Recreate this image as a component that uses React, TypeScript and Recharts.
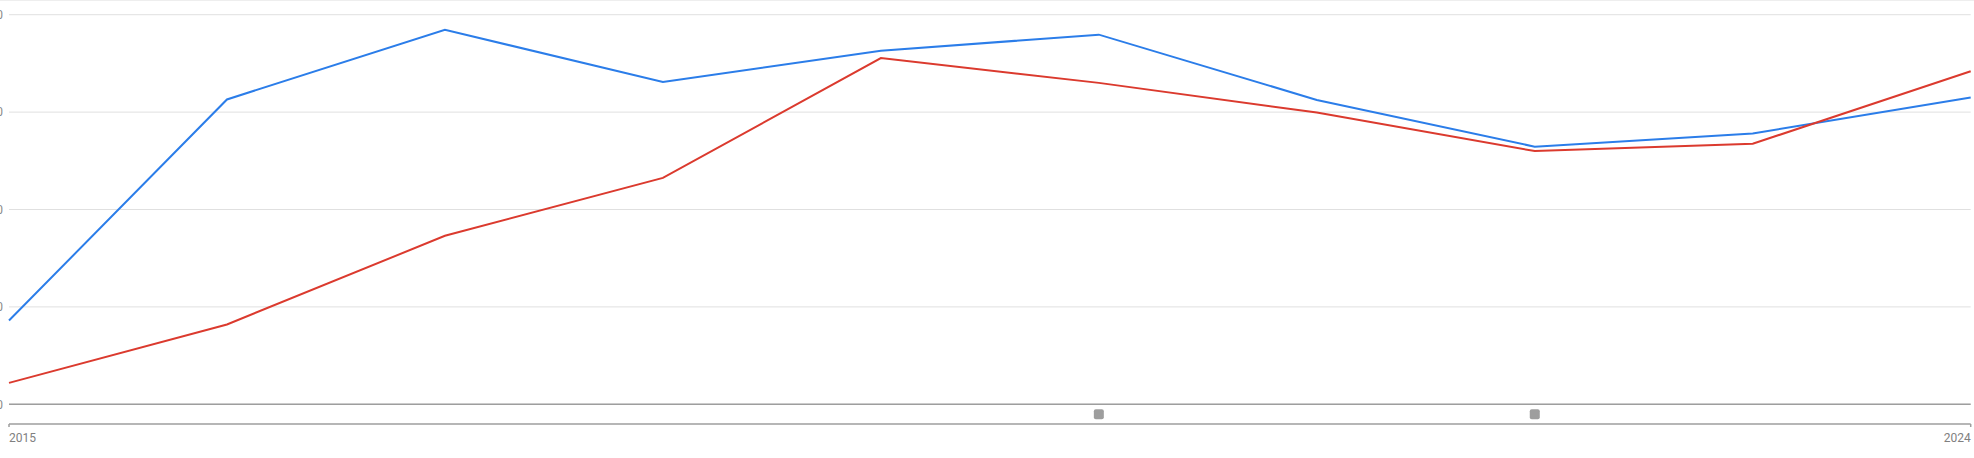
import { CartesianGrid, Line, LineChart, XAxis, YAxis } from 'recharts'

const years = [2015, 2016, 2017, 2018, 2019, 2020, 2021, 2022, 2023, 2024]
const seriesA = [17.2, 62.6, 76.9, 66.2, 72.6, 75.9, 62.5, 52.9, 55.6, 63.0]
const seriesB = [4.4, 16.4, 34.6, 46.5, 71.1, 66.0, 59.9, 52.0, 53.5, 68.4]
const yTicks = [0, 20, 40, 60, 80]
const xLabels = [2015, 2024]
const annotations = [2020, 2022]

const BLUE = '#2b7de9'
const RED = '#db3a2e'
const AXIS = '#9e9e9e'
const FONT = 'Roboto, "Noto Sans", sans-serif'

const data = years.map((year, i) => ({ year, a: seriesA[i], b: seriesB[i] }))

function YTick(props: any) {
  const { y, payload } = props
  return (
    <text x={3} y={y} dy="0.35em" textAnchor="end" fill="#8a8a8a" fontSize={12} fontFamily={FONT}>
      {payload.value}
    </text>
  )
}

function MarkerTick(props: any) {
  const { x, y } = props
  return <rect x={x - 5} y={y + 5} width={10} height={10} rx={2} fill={AXIS} />
}

function YearTick(props: any) {
  const { x, y, payload, index } = props
  const anchor = index === 0 ? 'start' : 'end'
  return (
    <text x={x} y={y} dy="0.71em" textAnchor={anchor} fill="#808080" fontSize={12} fontFamily={FONT}>
      {payload.value}
    </text>
  )
}

export default function App() {
  return (
    <div style={{ position: 'absolute', left: 0, top: 0, width: 1974, height: 458, background: '#fff' }}>
      <div style={{ position: 'absolute', left: 0, top: 0, width: 1974, height: 1, background: '#eeeeee' }} />
      <LineChart
        width={1974}
        height={458}
        data={data}
        margin={{ top: 14.7, right: 3.3, left: 0, bottom: 0 }}
      >
        <CartesianGrid vertical={false} stroke="#e0e0e0" />
        <YAxis
          width={9}
          domain={[0, 80]}
          ticks={yTicks}
          axisLine={false}
          tickLine={false}
          tick={<YTick />}
          interval={0}
        />
        <XAxis
          xAxisId="main"
          dataKey="year"
          type="number"
          domain={[2015, 2024]}
          ticks={annotations}
          height={19.7}
          axisLine={{ stroke: AXIS, strokeWidth: 1.5 }}
          tickLine={false}
          tickSize={0}
          tickMargin={0}
          tick={<MarkerTick />}
          interval={0}
        />
        <XAxis
          xAxisId="nav"
          dataKey="year"
          type="number"
          domain={[2015, 2024]}
          ticks={xLabels}
          height={34}
          axisLine={{ stroke: AXIS, strokeWidth: 1.5 }}
          tickLine={{ stroke: AXIS, strokeWidth: 1.5 }}
          tickSize={3}
          tickMargin={6}
          tick={<YearTick />}
          interval={0}
        />
        <Line
          xAxisId="main"
          dataKey="a"
          stroke={BLUE}
          strokeWidth={2}
          dot={false}
          isAnimationActive={false}
        />
        <Line
          xAxisId="main"
          dataKey="b"
          stroke={RED}
          strokeWidth={2}
          dot={false}
          isAnimationActive={false}
        />
      </LineChart>
    </div>
  )
}
